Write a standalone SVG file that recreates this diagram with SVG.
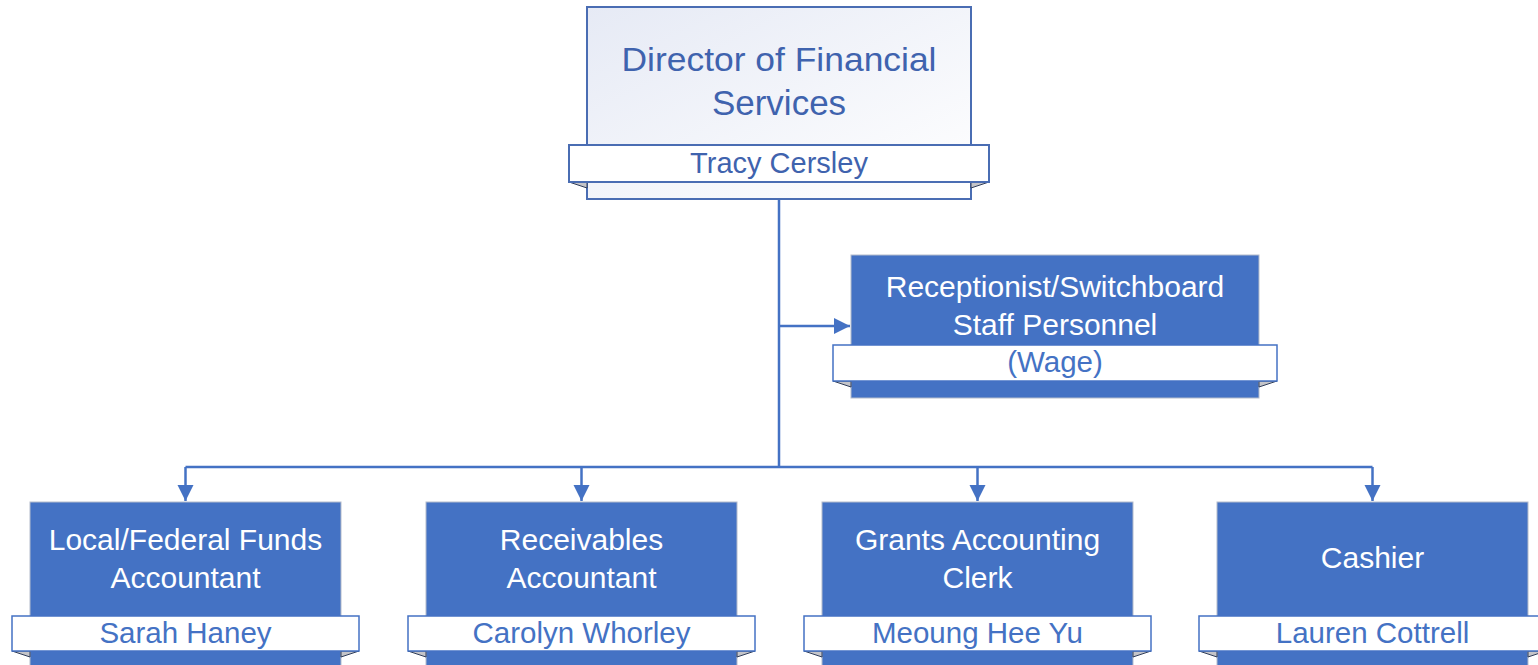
<svg xmlns="http://www.w3.org/2000/svg" width="1538" height="665" viewBox="0 0 1538 665">
<defs>
<linearGradient id="topg" x1="0" y1="0" x2="1" y2="1">
<stop offset="0" stop-color="#e6eaf5"/>
<stop offset="1" stop-color="#ffffff"/>
</linearGradient>
<marker id="arr" viewBox="0 0 10 10" refX="10" refY="5" markerWidth="6.5" markerHeight="6.5" markerUnits="strokeWidth" orient="auto">
<path d="M0,0 L10,5 L0,10 z" fill="#4472c4"/>
</marker>
<style>
.box{fill:#4472c4;stroke:#b4bccb;stroke-width:1}
.ban{fill:#ffffff;stroke:#4472c4;stroke-width:1.5}
.fold{fill:#c4c4c8;stroke:#2f3d5a;stroke-width:1}
.t{font-family:"Liberation Sans",Arial,sans-serif;fill:#ffffff;text-anchor:middle;font-size:30px}
.n{font-family:"Liberation Sans",Arial,sans-serif;fill:#4472c4;text-anchor:middle;font-size:29.5px}
.ln{fill:none;stroke:#4472c4;stroke-width:2.5}
</style>
</defs>
<g id="connectors">
<path class="ln" d="M779,199 V467"/>
<path class="ln" d="M185.5,467 H1372.5"/>
<path class="ln" d="M779,326 H850" marker-end="url(#arr)"/>
<path class="ln" d="M185.5,467 V501" marker-end="url(#arr)"/>
<path class="ln" d="M581.5,467 V501" marker-end="url(#arr)"/>
<path class="ln" d="M977.5,467 V501" marker-end="url(#arr)"/>
<path class="ln" d="M1372.5,467 V501" marker-end="url(#arr)"/>
</g>
<g id="director">
<rect x="587" y="7" width="384" height="192" fill="url(#topg)" stroke="#4a6db3" stroke-width="2"/>
<path class="fold" d="M569,182 L587,182 L587,188 Z"/>
<path class="fold" d="M989,182 L971,182 L971,188 Z"/>
<rect x="569" y="145" width="420" height="37" fill="#ffffff" stroke="#4a6db3" stroke-width="2"/>
<text x="779" y="71" font-family="Liberation Sans, Arial, sans-serif" font-size="34" fill="#3f63ae" text-anchor="middle" textLength="315" lengthAdjust="spacingAndGlyphs">Director of Financial</text>
<text x="779" y="115" font-family="Liberation Sans, Arial, sans-serif" font-size="35" fill="#3f63ae" text-anchor="middle">Services</text>
<text x="779" y="173" font-family="Liberation Sans, Arial, sans-serif" font-size="29" fill="#3f63ae" text-anchor="middle">Tracy Cersley</text>
</g>
<g id="receptionist">
<rect class="box" x="851" y="255" width="408" height="143"/>
<path class="fold" d="M833,381 L851,381 L851,387 Z"/>
<path class="fold" d="M1277,381 L1259,381 L1259,387 Z"/>
<rect class="ban" x="833" y="345" width="444" height="36"/>
<text class="t" x="1055" y="297">Receptionist/Switchboard</text>
<text class="t" x="1055" y="335">Staff Personnel</text>
<text class="n" x="1055" y="372">(Wage)</text>
</g>
<g id="localfederal">
<rect class="box" x="30" y="502" width="311" height="180"/>
<path class="fold" d="M12,651 L30,651 L30,657 Z"/>
<path class="fold" d="M359,651 L341,651 L341,657 Z"/>
<rect class="ban" x="12" y="616" width="347" height="35"/>
<text class="t" x="185.5" y="550">Local/Federal Funds</text>
<text class="t" x="185.5" y="588">Accountant</text>
<text class="n" x="185.5" y="643">Sarah Haney</text>
</g>
<g id="receivables">
<rect class="box" x="426" y="502" width="311" height="180"/>
<path class="fold" d="M408,651 L426,651 L426,657 Z"/>
<path class="fold" d="M755,651 L737,651 L737,657 Z"/>
<rect class="ban" x="408" y="616" width="347" height="35"/>
<text class="t" x="581.5" y="550">Receivables</text>
<text class="t" x="581.5" y="588">Accountant</text>
<text class="n" x="581.5" y="643">Carolyn Whorley</text>
</g>
<g id="grants">
<rect class="box" x="822" y="502" width="311" height="180"/>
<path class="fold" d="M804,651 L822,651 L822,657 Z"/>
<path class="fold" d="M1151,651 L1133,651 L1133,657 Z"/>
<rect class="ban" x="804" y="616" width="347" height="35"/>
<text class="t" x="977.5" y="550">Grants Accounting</text>
<text class="t" x="977.5" y="588">Clerk</text>
<text class="n" x="977.5" y="643">Meoung Hee Yu</text>
</g>
<g id="cashier">
<rect class="box" x="1217" y="502" width="311" height="180"/>
<path class="fold" d="M1199,651 L1217,651 L1217,657 Z"/>
<path class="fold" d="M1546,651 L1528,651 L1528,657 Z"/>
<rect class="ban" x="1199" y="616" width="347" height="35"/>
<text class="t" x="1372.5" y="568">Cashier</text>
<text class="n" x="1372.5" y="643">Lauren Cottrell</text>
</g>
</svg>
